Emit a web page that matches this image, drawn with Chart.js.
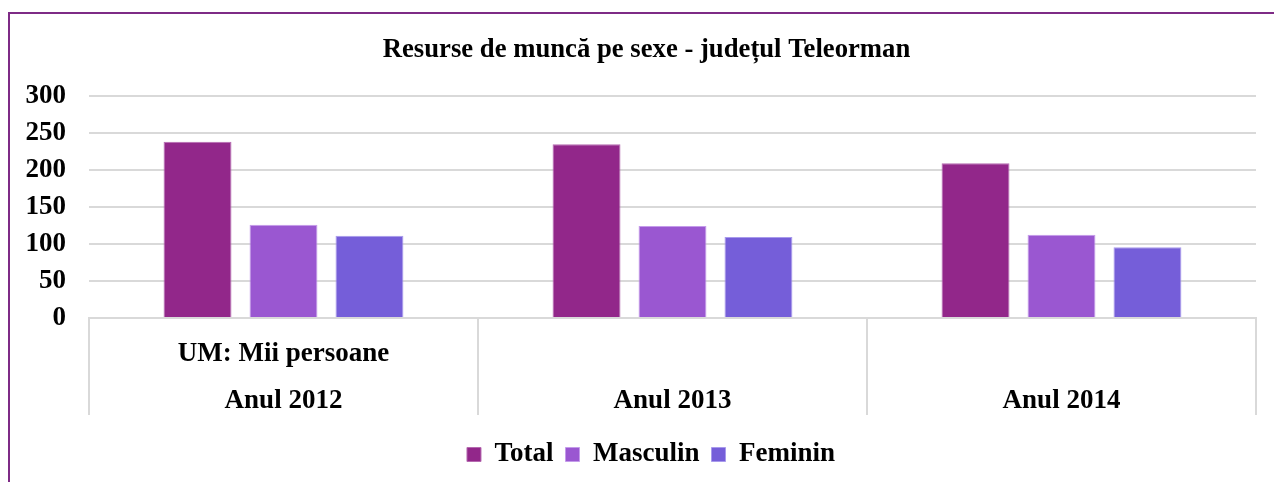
<!DOCTYPE html>
<html>
<head>
<meta charset="utf-8">
<script src="https://cdn.jsdelivr.net/npm/chart.js@4"></script>
<style>
  html, body { margin: 0; padding: 0; background: #fff; }
  body { width: 1274px; height: 482px; position: relative; overflow: hidden; }
  #frame { position: absolute; left: 8px; top: 12px; width: 1300px; height: 500px;
           border-left: 2px solid #7E2B86; border-top: 2px solid #7E2B86; box-sizing: border-box; }
  #wrap { position: absolute; left: 0; top: 0; width: 1274px; height: 482px; }
</style>
</head>
<body>
<div id="frame"></div>
<div id="wrap"><canvas id="c" width="1274" height="482"></canvas></div>
<script>
const titleText = 'Resurse de muncă pe sexe - județul Teleorman';
const categories = [['UM: Mii persoane', 'Anul 2012'], ['', 'Anul 2013'], ['', 'Anul 2014']];
const seriesNames = ['Total', 'Masculin', 'Feminin'];
const totalValues = [238.2, 234.7, 209.0];
const masculinValues = [126.1, 124.3, 112.6];
const femininValues = [111.2, 109.5, 95.5];
const yTicks = [0, 50, 100, 150, 200, 250, 300];

const colors = ['#92278A', '#9A57D1', '#755ED9'];
const borders = ['#B56AB0', '#C49BEA', '#A89AEC'];
const FONT = 'Liberation Serif, Times New Roman, serif';
const FS = 27;

const values = [totalValues, masculinValues, femininValues];
const datasets = seriesNames.map((n, i) => ({
  label: n,
  data: values[i],
  backgroundColor: colors[i],
  borderColor: borders[i],
  borderWidth: 1,
  categoryPercentage: 0.663,
  barPercentage: 0.79
}));

// Draws the category separator lines below the x axis, at the category boundaries of the x scale
const separators = {
  id: 'separators',
  afterDraw(chart) {
    const xs = chart.scales.x;
    const n = chart.data.labels.length;
    const step = xs.width / n;
    const ctx = chart.ctx;
    const top = chart.chartArea.bottom;
    ctx.save();
    ctx.strokeStyle = '#D9D9D9';
    ctx.lineWidth = 2;
    for (let i = 0; i <= n; i++) {
      const x = Math.round(xs.getPixelForValue(0) - step / 2 + i * step);
      ctx.beginPath();
      ctx.moveTo(x, top);
      ctx.lineTo(x, top + 97);
      ctx.stroke();
    }
    ctx.restore();
  }
};

// Nudges the title and legend boxes horizontally (they are centred on the frame, not the plot)
const nudge = {
  id: 'nudge',
  afterLayout(chart) {
    if (chart.titleBlock) { chart.titleBlock.left += 5.5; chart.titleBlock.right += 5.5; }
    if (chart.legend) { chart.legend.left += 10; chart.legend.right += 10; }
  }
};

new Chart(document.getElementById('c'), {
  type: 'bar',
  data: { labels: categories, datasets },
  plugins: [separators, nudge],
  options: {
    responsive: false,
    animation: false,
    devicePixelRatio: 1,
    layout: { padding: { left: 26, right: 18, top: 20, bottom: 4 } },
    plugins: {
      title: {
        display: true, text: titleText, color: '#000',
        font: { family: FONT, size: 26.7, weight: 'bold' },
        padding: { top: 14, bottom: 30 }
      },
      legend: {
        position: 'bottom',
        labels: {
          color: '#000',
          font: { family: FONT, size: FS, weight: 'bold' },
          boxWidth: 14, boxHeight: 14, padding: 12
        }
      },
      tooltip: { enabled: false }
    },
    scales: {
      x: {
        grid: { display: false },
        border: { display: true, color: '#D9D9D9', width: 2 },
        ticks: { color: '#000', font: { family: FONT, size: FS, weight: 'bold', lineHeight: 47 / FS }, padding: 5, maxRotation: 0, autoSkip: false },
        afterFit: (s) => { s.height = 111; }
      },
      y: {
        min: 0, max: 300,
        afterBuildTicks: (s) => { s.ticks = yTicks.map(v => ({ value: v })); },
        grid: { color: '#D9D9D9', lineWidth: 2, drawTicks: false },
        border: { display: false },
        ticks: { color: '#000', font: { family: FONT, size: FS, weight: 'bold' }, padding: 23 },
        afterFit: (s) => { s.width = 63; }
      }
    }
  }
});
</script>
</body>
</html>
